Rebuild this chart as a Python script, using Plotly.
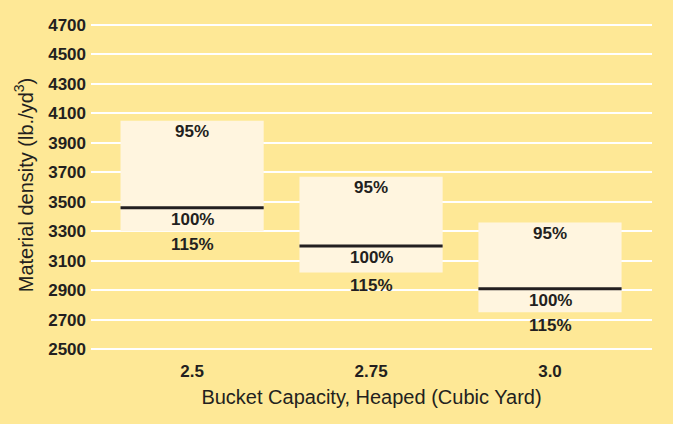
import plotly.graph_objects as go

categories = ["2.5", "2.75", "3.0"]
density_95 = [4050, 3670, 3360]
density_100 = [3460, 3200, 2910]
density_115 = [3300, 3020, 2750]
label_top = "95%"
label_mid = "100%"
label_bot = "115%"
y_ticks = list(range(2500, 4701, 200))

BG = "#FEE896"
BAR = "#FFF5DF"
INK = "#231F20"
BOLD_FONT = "Liberation Sans, Arial, sans-serif"
REG_FONT = "Liberation Sans Narrow, Liberation Sans, Arial, sans-serif"

idx = list(range(len(categories)))
fig = go.Figure()
fig.add_trace(go.Bar(
    x=idx,
    y=[t - b for t, b in zip(density_95, density_115)],
    base=density_115,
    width=0.8,
    marker=dict(color=BAR, line=dict(width=0)),
    hoverinfo="skip",
    showlegend=False,
))

shapes = []
annotations = []
for i in idx:
    shapes.append(dict(type="line", xref="x", yref="y",
                       x0=i - 0.4, x1=i + 0.4,
                       y0=density_100[i], y1=density_100[i],
                       line=dict(color=INK, width=3)))
    for yv, txt, sh in [(density_95[i], label_top, -11),
                        (density_100[i], label_mid, -12),
                        (density_115[i], label_bot, -13)]:
        annotations.append(dict(x=i, y=yv, xref="x", yref="y", text="<b>%s</b>" % txt,
                                showarrow=False, yshift=sh, yanchor="middle",
                                font=dict(family=BOLD_FONT, size=17, color=INK)))

fig.update_layout(
    width=673, height=424,
    margin=dict(l=91, r=21, t=15, b=69),
    paper_bgcolor=BG, plot_bgcolor=BG,
    shapes=shapes,
    annotations=annotations,
    bargap=0.2,
    xaxis=dict(
        tickmode="array", tickvals=idx,
        ticktext=["<b>%s</b>" % c for c in categories],
        range=[-0.565, 2.57],
        showgrid=False, zeroline=False, showline=False, ticks="",
        ticklabelstandoff=4,
        tickfont=dict(family=BOLD_FONT, size=17, color=INK),
        title=dict(text="Bucket Capacity, Heaped (Cubic Yard)", standoff=9,
                   font=dict(family=REG_FONT, size=20, color=INK)),
    ),
    yaxis=dict(
        tickmode="array", tickvals=y_ticks,
        ticktext=["<b>%d</b>" % v for v in y_ticks],
        range=[2460, 4768],
        showgrid=True, gridcolor="white", gridwidth=2,
        zeroline=False, showline=False, ticks="",
        ticklabelstandoff=4,
        tickfont=dict(family=BOLD_FONT, size=17, color=INK),
        title=dict(text="Material density (lb./yd<sup>3</sup>)", standoff=9,
                   font=dict(family=REG_FONT, size=20, color=INK)),
    ),
)

fig.write_html("out.html", config={"displayModeBar": False},
               post_script="document.body.style.margin='0';document.body.style.overflow='hidden';")
